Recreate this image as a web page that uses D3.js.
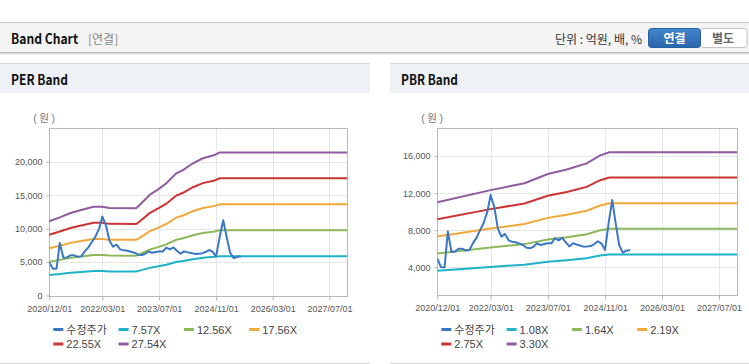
<!DOCTYPE html>
<html><head><meta charset="utf-8">
<script src="https://cdn.jsdelivr.net/npm/d3@7"></script>
<style>
html,body{margin:0;padding:0;background:#fff;}
svg{display:block;font-family:"Liberation Sans","Noto Sans CJK KR",sans-serif;}
</style></head>
<body><svg id="c" width="749" height="364"></svg>
<script>
// ---------- data ----------
const xTickDates = ["2020-12-01","2022-03-01","2023-07-01","2024-11-01","2026-03-01","2027-07-01"];
const xTickLabels = ["2020/12/01","2022/03/01","2023/07/01","2024/11/01","2026/03/01","2027/07/01"];
const xDomain = ["2020-12-01","2027-12-01"];

const priceMonths = ["2020-12","2021-01","2021-02","2021-03","2021-04","2021-05","2021-06","2021-07","2021-08","2021-09","2021-10","2021-11",
 "2021-12","2022-01","2022-02","2022-03","2022-04","2022-05","2022-06","2022-07","2022-08","2022-09","2022-10","2022-11",
 "2022-12","2023-01","2023-02","2023-03","2023-04","2023-05","2023-06","2023-07","2023-08","2023-09","2023-10","2023-11",
 "2023-12","2024-01","2024-02","2024-03","2024-04","2024-05","2024-06","2024-07","2024-08","2024-09","2024-10","2024-11",
 "2024-12","2025-01","2025-02","2025-03","2025-04","2025-05","2025-06"];
const priceValues = [4950,4000,4000,7850,5650,5700,6000,6000,5800,5850,6600,7200,
 8000,8800,10000,11800,10500,8200,7300,7600,6900,6750,6700,6550,
 6400,6100,6050,6200,6580,6400,6500,6580,6580,7150,6900,7180,
 6700,6250,6600,6450,6350,6220,6250,6290,6500,6800,6550,5860,
 8750,11250,8600,6400,5570,5780,5860];

const perBandDates = ["2020-12-01","2021-03-01","2021-06-01","2021-09-01","2021-12-15","2022-03-01","2022-05-01","2022-12-15","2023-01-15",
 "2023-04-10","2023-07-05","2023-09-01","2023-11-25","2024-01-22","2024-04-16","2024-07-10","2024-10-19","2024-12-01","2027-12-01"];
const per757  = [3051,3210,3391,3512,3649,3649,3596,3588,3717,4133,4406,4610,5019,5155,5435,5640,5776,5882,5882];
const per1256 = [5062,5325,5627,5828,6054,6054,5966,5953,6167,6858,7310,7649,8327,8553,9018,9357,9583,9759,9759];
const per1756 = [7077,7445,7867,8148,8464,8464,8341,8323,8622,9588,10220,10694,11642,11958,12608,13082,13398,13644,13644];
const per2255 = [9088,9561,10102,10463,10869,10869,10711,10689,11072,12312,13124,13733,14951,15357,16191,16800,17206,17521,17521];
const per2754 = [11099,11677,12338,12779,13274,13274,13082,13054,13522,15037,16028,16772,18259,18755,19774,20517,21013,21399,21399];
const perLabels = ["수정주가","7.57X","12.56X","17.56X","22.55X","27.54X"];
const perYTicks = [0,5000,10000,15000,20000];
const perYDomain = [0,25000];

const pbrBandDates = ["2020-12-01","2022-03-01","2022-12-15","2023-07-01","2023-12-10","2024-05-28","2024-09-20","2024-12-07","2027-12-01"];
const pbr108 = [3607,4034,4277,4601,4763,4979,5260,5373,5373];
const pbr164 = [5478,6125,6494,6986,7232,7560,7987,8159,8159];
const pbr219 = [7315,8180,8672,9329,9658,10096,10665,10895,10895];
const pbr275 = [9185,10271,10890,11715,12128,12678,13393,13681,13681];
const pbr330 = [11022,12326,13068,14058,14553,15213,16071,16418,16418];
const pbrLabels = ["수정주가","1.08X","1.64X","2.19X","2.75X","3.30X"];
const pbrYTicks = [4000,8000,12000,16000];
const pbrYDomain = [1000,19000];

const colors = ["#3a78c6","#1eb2c6","#8cb85a","#f2a73b","#cc3431","#8f5a9f"];

// ---------- page chrome ----------
const svg = d3.select("#c");
svg.append("rect").attr("x",0).attr("y",22).attr("width",749).attr("height",31).attr("fill","#f4f4f4");
svg.append("rect").attr("x",0).attr("y",22).attr("width",749).attr("height",1).attr("fill","#c6c6c6");
svg.append("rect").attr("x",0).attr("y",52).attr("width",749).attr("height",1).attr("fill","#bcbcbc");
svg.append("rect").attr("x",0).attr("y",53).attr("width",749).attr("height",1).attr("fill","#d8d8d8");
svg.append("rect").attr("x",0).attr("y",54).attr("width",749).attr("height",1).attr("fill","#ececec");
svg.append("text").attr("x",11).attr("y",44).attr("font-size",14).attr("font-weight","bold").attr("fill","#111")
  .attr("font-family","Noto Sans CJK KR").attr("textLength",67).attr("lengthAdjust","spacingAndGlyphs").text("Band Chart");
svg.append("text").attr("x",88).attr("y",44).attr("font-size",12).attr("fill","#8a8a8a").attr("font-family","Noto Sans CJK KR").text("[연결]");
svg.append("text").attr("x",642).attr("y",43.5).attr("text-anchor","end").attr("font-size",12).attr("fill","#333").attr("font-family","Noto Sans CJK KR").text("단위 : 억원, 배, %");
const defs = svg.append("defs");
const g1 = defs.append("linearGradient").attr("id","btn").attr("x1",0).attr("y1",0).attr("x2",0).attr("y2",1);
g1.append("stop").attr("offset","0%").attr("stop-color","#4285cc");
g1.append("stop").attr("offset","100%").attr("stop-color","#2a66ad");
svg.append("rect").attr("x",700).attr("y",28.5).attr("width",47).attr("height",19).attr("rx",3).attr("fill","#fff").attr("stroke","#c4c4c4");
svg.append("rect").attr("x",648.5).attr("y",28.5).attr("width",52).attr("height",19).attr("rx",3).attr("fill","url(#btn)").attr("stroke","#2a5f9e");
svg.append("text").attr("x",674.5).attr("y",42.5).attr("text-anchor","middle").attr("font-size",12).attr("font-weight","bold").attr("fill","#fff").attr("font-family","Noto Sans CJK KR").text("연결");
svg.append("text").attr("x",723).attr("y",42.5).attr("text-anchor","middle").attr("font-size",12).attr("font-weight","bold").attr("fill","#666").attr("font-family","Noto Sans CJK KR").text("별도");

// ---------- charts ----------
const pd = d3.timeParse("%Y-%m-%d");
const pm = d3.timeParse("%Y-%m");

function panel(opt){
  const {px, pw, title, left, right, top, bottom, yDomain, yTicks, bandDates, bands, labels} = opt;
  const g = svg.append("g");
  g.append("rect").attr("x",px).attr("y",64).attr("width",pw).attr("height",29).attr("fill","#eef1f6");
  g.append("rect").attr("x",px).attr("y",63).attr("width",pw).attr("height",1).attr("fill","#d6d6d6");
  g.append("rect").attr("x",px).attr("y",363).attr("width",pw).attr("height",1).attr("fill","#d6d6d6");
  g.append("text").attr("x",px+11).attr("y",85).attr("font-size",14).attr("font-weight","bold").attr("fill","#111")
    .attr("font-family","Noto Sans CJK KR").attr("textLength",57).attr("lengthAdjust","spacingAndGlyphs").text(title);
  g.append("text").attr("x",left-16).attr("y",122).attr("font-size",10.5).attr("letter-spacing",2.5).attr("fill","#777").text("(원)");

  const x = d3.scaleTime().domain(xDomain.map(pd)).range([left,right]);
  const y = d3.scaleLinear().domain(yDomain).range([bottom,top]);

  // grid
  g.append("g").selectAll("line").data(yTicks).join("line")
    .attr("x1",left).attr("x2",right).attr("y1",d=>Math.round(y(d))+0.5).attr("y2",d=>Math.round(y(d))+0.5)
    .attr("stroke","#e6e6e6");
  g.append("g").selectAll("line").data(xTickDates).join("line")
    .attr("x1",d=>Math.round(x(pd(d)))+0.5).attr("x2",d=>Math.round(x(pd(d)))+0.5).attr("y1",top).attr("y2",bottom)
    .attr("stroke","#e6e6e6");
  // frame
  g.append("rect").attr("x",Math.round(left)+0.5).attr("y",Math.round(top)+0.5)
    .attr("width",Math.round(right)-Math.round(left)).attr("height",Math.round(bottom)-Math.round(top))
    .attr("fill","none").attr("stroke","#b9b9b9");

  // axes
  const xa = d3.axisBottom(x).tickValues(xTickDates.map(pd)).tickSize(4)
    .tickFormat((d,i)=>xTickLabels[i]);
  const xg = g.append("g").attr("transform",`translate(0,${Math.round(bottom)+0.5})`).call(xa);
  xg.select(".domain").remove();
  xg.selectAll(".tick line").attr("stroke","#b0b0b0");
  xg.selectAll("text").attr("font-size",9).attr("fill","#555").attr("font-family","Liberation Sans").attr("dy","0.71em").attr("y",9);

  const ya = d3.axisLeft(y).tickValues(yTicks).tickSize(3).tickFormat(d3.format(","));
  const yg = g.append("g").attr("transform",`translate(${Math.round(left)+0.5},0)`).call(ya);
  yg.select(".domain").remove();
  yg.selectAll(".tick line").attr("stroke","#b0b0b0");
  yg.selectAll("text").attr("font-size",9).attr("fill","#555").attr("font-family","Liberation Sans").attr("x",-7);

  const clipId = "clip"+px;
  defs.append("clipPath").attr("id",clipId).append("rect").attr("x",left).attr("y",top).attr("width",right-left).attr("height",bottom-top);
  const plot = g.append("g").attr("clip-path",`url(#${clipId})`);
  const line = d3.line().x(d=>x(d[0])).y(d=>y(d[1]));
  bands.forEach((vals,i)=>{
    const pts = bandDates.map((d,j)=>[pd(d),vals[j]]);
    plot.append("path").attr("d",line(pts)).attr("fill","none").attr("stroke",colors[i+1]).attr("stroke-width",2);
  });
  const ppts = priceMonths.map((m,j)=>[pm(m),priceValues[j]]);
  plot.append("path").attr("d",line(ppts)).attr("fill","none").attr("stroke",colors[0]).attr("stroke-width",2).attr("stroke-linejoin","round");

  // legend
  const lx0 = left+4, colW = 65.3, rows=[329.5,344];
  labels.forEach((lab,i)=>{
    const col = i<4 ? i : i-4, row = i<4 ? 0 : 1;
    const lx = lx0 + col*colW, ly = rows[row];
    g.append("line").attr("x1",lx).attr("x2",lx+10).attr("y1",ly).attr("y2",ly).attr("stroke",colors[i]).attr("stroke-width",3);
    g.append("text").attr("x",lx+13).attr("y",ly+4).attr("font-size",11).attr("fill","#444").text(lab);
  });
}

panel({px:0,pw:370,title:"PER Band",left:49.3,right:347.3,top:128.3,bottom:295.5,yDomain:perYDomain,yTicks:perYTicks,
  bandDates:perBandDates,bands:[per757,per1256,per1756,per2255,per2754],labels:perLabels});
panel({px:390,pw:359,title:"PBR Band",left:437.3,right:737,top:128.3,bottom:295,yDomain:pbrYDomain,yTicks:pbrYTicks,
  bandDates:pbrBandDates,bands:[pbr108,pbr164,pbr219,pbr275,pbr330],labels:pbrLabels});
</script>
</body></html>
